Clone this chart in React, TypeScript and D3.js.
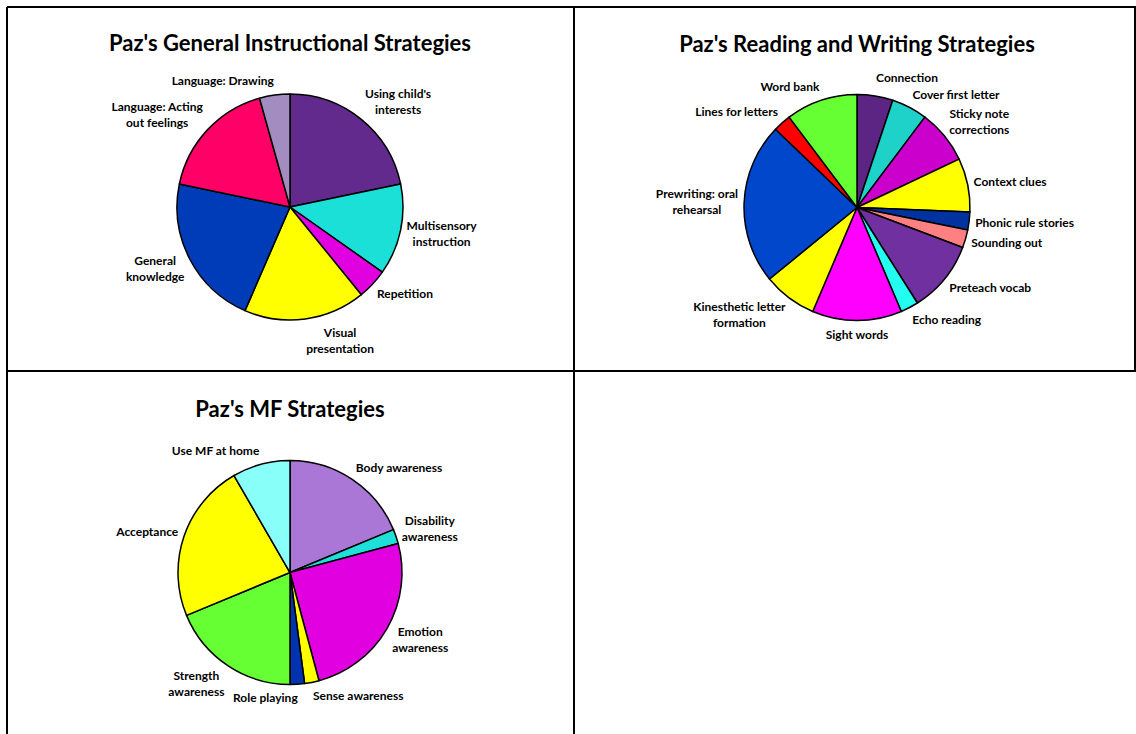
import React from "react";
import * as d3 from "d3";

// Paz's General Instructional Strategies
const generalLabels = [
  "Using child's\ninterests",
  "Multisensory\ninstruction",
  "Repetition",
  "Visual\npresentation",
  "General\nknowledge",
  "Language: Acting\nout feelings",
  "Language: Drawing",
];
const generalValues = [5, 3, 1, 4, 5, 4, 1];
const generalColors = ["#632a8d", "#1be0d8", "#e000e0", "#ffff00", "#003cb8", "#ff0066", "#a28cc0"];

// Paz's Reading and Writing Strategies
const readingLabels = [
  "Connection",
  "Cover first letter",
  "Sticky note\ncorrections",
  "Context clues",
  "Phonic rule stories",
  "Sounding out",
  "Preteach vocab",
  "Echo reading",
  "Sight words",
  "Kinesthetic letter\nformation",
  "Prewriting: oral\nrehearsal",
  "Lines for letters",
  "Word bank",
];
const readingValues = [2, 2, 3, 3, 1, 1, 4, 1, 5, 3, 9, 1, 4];
const readingColors = [
  "#5c2584", "#1ed2ca", "#cc00cc", "#ffff00", "#0033a0", "#ff8080", "#7030a0",
  "#22fff0", "#ff00ff", "#ffff00", "#0047cc", "#ff0000", "#66ff33",
];

// Paz's MF Strategies
const mfLabels = [
  "Body awareness",
  "Disability\nawareness",
  "Emotion\nawareness",
  "Sense awareness",
  "Role playing",
  "Strength\nawareness",
  "Acceptance",
  "Use MF at home",
];
const mfValues = [9, 1, 12, 1, 1, 9, 11, 4];
const mfColors = ["#aa77d6", "#1ee0d8", "#e000e0", "#ffff00", "#0033b0", "#66ff33", "#ffff00", "#88fff8"];

const FONT = "Lato, 'Open Sans', sans-serif";
const LABEL_SIZE = 12;
const LINE_H = 16;

const ctx = document.createElement("canvas").getContext("2d");
const textWidth = (s: string) => {
  if (!ctx) return s.length * 6.5;
  ctx.font = `bold ${LABEL_SIZE}px Lato`;
  return ctx.measureText(s).width;
};

const Pie = ({ title, labels, values, colors, cx, cy, r }) => {
  const pie = d3.pie<number>().sort(null).value((d) => d);
  const arc = d3.arc<d3.PieArcDatum<number>>().innerRadius(0).outerRadius(r);
  const arcs = pie(values);
  const gap = 6;

  // place each label just outside its slice, pushed away from the pie
  const boxes = arcs.map((a, i) => {
    const mid = (a.startAngle + a.endAngle) / 2;
    const lines = labels[i].split("\n");
    const w = Math.max(...lines.map(textWidth));
    const h = lines.length * LINE_H;
    const s = Math.sin(mid);
    const c = Math.cos(mid);
    const px = (r + gap) * s;
    const py = -(r + gap) * c;
    return { lines, w, h, s, c, px, x: px + (w / 2) * Math.max(-1, Math.min(1, s * 8)), y: py - (h / 2) * c };
  });
  const overlap = (a, b) =>
    Math.abs(a.x - b.x) < (a.w + b.w) / 2 && Math.abs(a.y - b.y) < (a.h + b.h) / 2;
  // resolve collisions: lift top labels, flip bottom labels to the other side
  boxes.forEach((b, i) => {
    const n = boxes.length;
    [boxes[(i + n - 1) % n], boxes[(i + 1) % n]].forEach((o) => {
      if (o !== b && overlap(b, o) && Math.abs(b.s) < Math.abs(o.s)) {
        if (b.c > 0) b.y = o.y - (b.h + o.h) / 2 - 1;
        else b.x = b.px - Math.sign(o.s) * (b.w / 2);
      }
    });
  });

  return (
    <g>
      <text x={cx} y={cy - 156} textAnchor="middle" fontFamily={FONT} fontWeight="bold" fontSize={22}>
        {title}
      </text>
      <g transform={`translate(${cx},${cy})`}>
        {arcs.map((a, i) => (
          <path key={i} d={arc(a) || ""} fill={colors[i]} stroke="#000" strokeWidth={1.5} strokeLinejoin="round" />
        ))}
        {boxes.map((b, i) => (
          <text key={"l" + i} textAnchor="middle" fontFamily={FONT} fontWeight="bold" fontSize={LABEL_SIZE}>
            {b.lines.map((ln, j) => (
              <tspan key={j} x={b.x} y={b.y - b.h / 2 + LINE_H * j + LINE_H / 2 + 4}>
                {ln}
              </tspan>
            ))}
          </text>
        ))}
      </g>
    </g>
  );
};

export default function App() {
  const W = 1136;
  const H = 734;
  return (
    <div style={{ position: "absolute", left: 0, top: 0 }}>
      <svg width={W} height={H} style={{ display: "block", background: "#fff" }}>
        <g stroke="#000" strokeWidth={2}>
          <line x1={7} y1={7} x2={W} y2={7} />
          <line x1={7} y1={7} x2={7} y2={H} />
          <line x1={574} y1={7} x2={574} y2={H} />
          <line x1={7} y1={371} x2={W} y2={371} />
          <line x1={W - 1} y1={7} x2={W - 1} y2={371} />
        </g>
        <Pie title="Paz's General Instructional Strategies" labels={generalLabels} values={generalValues} colors={generalColors} cx={290} cy={207} r={113} />
        <Pie title="Paz's Reading and Writing Strategies" labels={readingLabels} values={readingValues} colors={readingColors} cx={857} cy={207.5} r={113} />
        <Pie title="Paz's MF Strategies" labels={mfLabels} values={mfValues} colors={mfColors} cx={290} cy={572.5} r={112} />
      </svg>
    </div>
  );
}
